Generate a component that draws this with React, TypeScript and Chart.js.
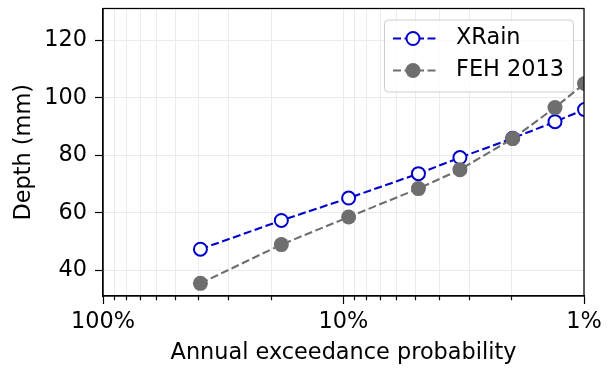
import React, { useEffect, useRef } from 'react';
import { Chart, registerables } from 'chart.js';

Chart.register(...registerables);

// Annual exceedance probability (%) for return periods 2, 5, 10, 20, 30, 50, 75, 100 years
const aep = [39.35, 18.13, 9.52, 4.88, 3.28, 1.98, 1.32, 0.995];
const xrainDepth = [47.3, 57.3, 65.1, 73.6, 79.2, 85.9, 91.7, 95.9];
const fehDepth = [35.4, 48.9, 58.5, 68.4, 75.0, 85.8, 96.6, 105.0];

const yTicks = [40, 60, 80, 100, 120];
const xTicks = [1, 2, 3, 4, 5, 6, 7, 8, 9, 10, 20, 30, 40, 50, 60, 70, 80, 90, 100];
const xMajorTicks = [1, 10, 100];
const seriesNames = ['XRain', 'FEH 2013'];

const FONT = "'DejaVu Sans', 'Liberation Sans', sans-serif";
const FS = 22.4;
const BLUE = '#0000cc';
const GREY = '#6e6e6e';

const framePlugin = {
  id: 'frame',
  afterDatasetsDraw(chart: any) {
    const { ctx, chartArea: a } = chart;
    ctx.save();
    ctx.strokeStyle = '#000';
    ctx.lineWidth = 1.25;
    ctx.strokeRect(a.left, a.top, a.right - a.left, a.bottom - a.top);
    ctx.restore();
  },
};

const legendPlugin = {
  id: 'customLegend',
  afterDraw(chart: any) {
    const { ctx, chartArea: a } = chart;
    const w = 189, h = 72;
    const x0 = a.right - 11 - w;
    const y0 = a.top + 11;
    ctx.save();
    ctx.beginPath();
    (ctx as any).roundRect(x0 + 0.5, y0 + 0.5, w, h, 4);
    ctx.fillStyle = 'rgba(255,255,255,0.8)';
    ctx.fill();
    ctx.strokeStyle = '#cccccc';
    ctx.lineWidth = 1;
    ctx.stroke();
    const rows = [y0 + 19, y0 + 51];
    chart.data.datasets.forEach((ds: any, i: number) => {
      const y = rows[i];
      ctx.beginPath();
      ctx.setLineDash([8, 3.5]);
      ctx.strokeStyle = ds.borderColor;
      ctx.lineWidth = 2.1;
      ctx.moveTo(x0 + 9, y);
      ctx.lineTo(x0 + 54, y);
      ctx.stroke();
      ctx.setLineDash([]);
      ctx.beginPath();
      ctx.arc(x0 + 29, y, ds.pointRadius, 0, Math.PI * 2);
      ctx.fillStyle = ds.pointBackgroundColor;
      ctx.fill();
      if (ds.pointBorderWidth > 0) {
        ctx.lineWidth = ds.pointBorderWidth;
        ctx.strokeStyle = ds.pointBorderColor;
        ctx.stroke();
      }
      ctx.fillStyle = '#000';
      ctx.font = `${FS}px ${FONT}`;
      ctx.textBaseline = 'middle';
      ctx.textAlign = 'left';
      ctx.fillText(ds.label, x0 + 72, y - 0.5);
    });
    ctx.restore();
  },
};

export default function App() {
  const ref = useRef<HTMLCanvasElement>(null);

  useEffect(() => {
    if (!ref.current) return;
    const chart = new Chart(ref.current, {
      type: 'line',
      data: {
        datasets: [
          {
            label: seriesNames[0],
            data: aep.map((x, i) => ({ x, y: xrainDepth[i] })),
            borderColor: BLUE,
            borderWidth: 2.1,
            borderDash: [8, 3.5],
            pointRadius: 6.5,
            pointBackgroundColor: '#ffffff',
            pointBorderColor: BLUE,
            pointBorderWidth: 2,
            order: 1,
          },
          {
            label: seriesNames[1],
            data: aep.map((x, i) => ({ x, y: fehDepth[i] })),
            borderColor: GREY,
            borderWidth: 2.1,
            borderDash: [8, 3.5],
            pointRadius: 7.5,
            pointBackgroundColor: GREY,
            pointBorderColor: GREY,
            pointBorderWidth: 0,
            order: 0,
          },
        ],
      } as any,
      options: {
        animation: false,
        responsive: true,
        maintainAspectRatio: false,
        layout: { padding: { top: 8, right: 28, left: 0, bottom: 0 } },
        plugins: { legend: { display: false }, tooltip: { enabled: false } },
        scales: {
          x: {
            type: 'logarithmic',
            min: 1,
            max: 100,
            reverse: true,
            afterBuildTicks: (scale: any) => {
              scale.ticks = xTicks.map((v) => ({ value: v, major: xMajorTicks.includes(v) }));
            },
            afterFit: (scale: any) => {
              scale.height = 76;
              scale.paddingLeft = 0;
              scale.paddingRight = 0;
            },
            ticks: {
              autoSkip: false,
              maxRotation: 0,
              padding: 5,
              color: '#000',
              font: { family: FONT, size: FS },
              callback: (v: any) => (xMajorTicks.includes(Number(v)) ? `${v}%` : ''),
            },
            grid: {
              color: '#ebebeb',
              lineWidth: 1,
              tickLength: 8,
              tickColor: '#000',
              tickWidth: 1.2,
              tickBorderDash: (ctx: any) =>
                ctx.tick && xMajorTicks.includes(ctx.tick.value) ? [] : [4, 100],
            } as any,
            border: { display: true, color: '#000', width: 1.25 },
            title: {
              display: true,
              text: 'Annual exceedance probability',
              color: '#000',
              font: { family: FONT, size: FS },
              padding: { top: 0, bottom: 5 },
            },
          },
          y: {
            type: 'linear',
            min: 31,
            max: 131.1,
            afterBuildTicks: (scale: any) => {
              scale.ticks = yTicks.map((v) => ({ value: v }));
            },
            afterFit: (scale: any) => {
              scale.width = 103;
              scale.paddingTop = 0;
              scale.paddingBottom = 0;
            },
            ticks: {
              padding: 8,
              color: '#000',
              font: { family: FONT, size: FS },
            },
            grid: {
              color: '#ebebeb',
              lineWidth: 1,
              tickLength: 8,
              tickColor: '#000',
              tickWidth: 1.2,
            },
            border: { display: true, color: '#000', width: 1.25 },
            title: {
              display: true,
              text: 'Depth (mm)',
              color: '#000',
              font: { family: FONT, size: FS },
              padding: { top: 11, bottom: 0 },
            },
          },
        },
      } as any,
      plugins: [framePlugin, legendPlugin],
    });
    return () => chart.destroy();
  }, []);

  return (
    <div style={{ position: 'absolute', left: 0, top: 0, width: 612, height: 372 }}>
      <canvas ref={ref} />
    </div>
  );
}
